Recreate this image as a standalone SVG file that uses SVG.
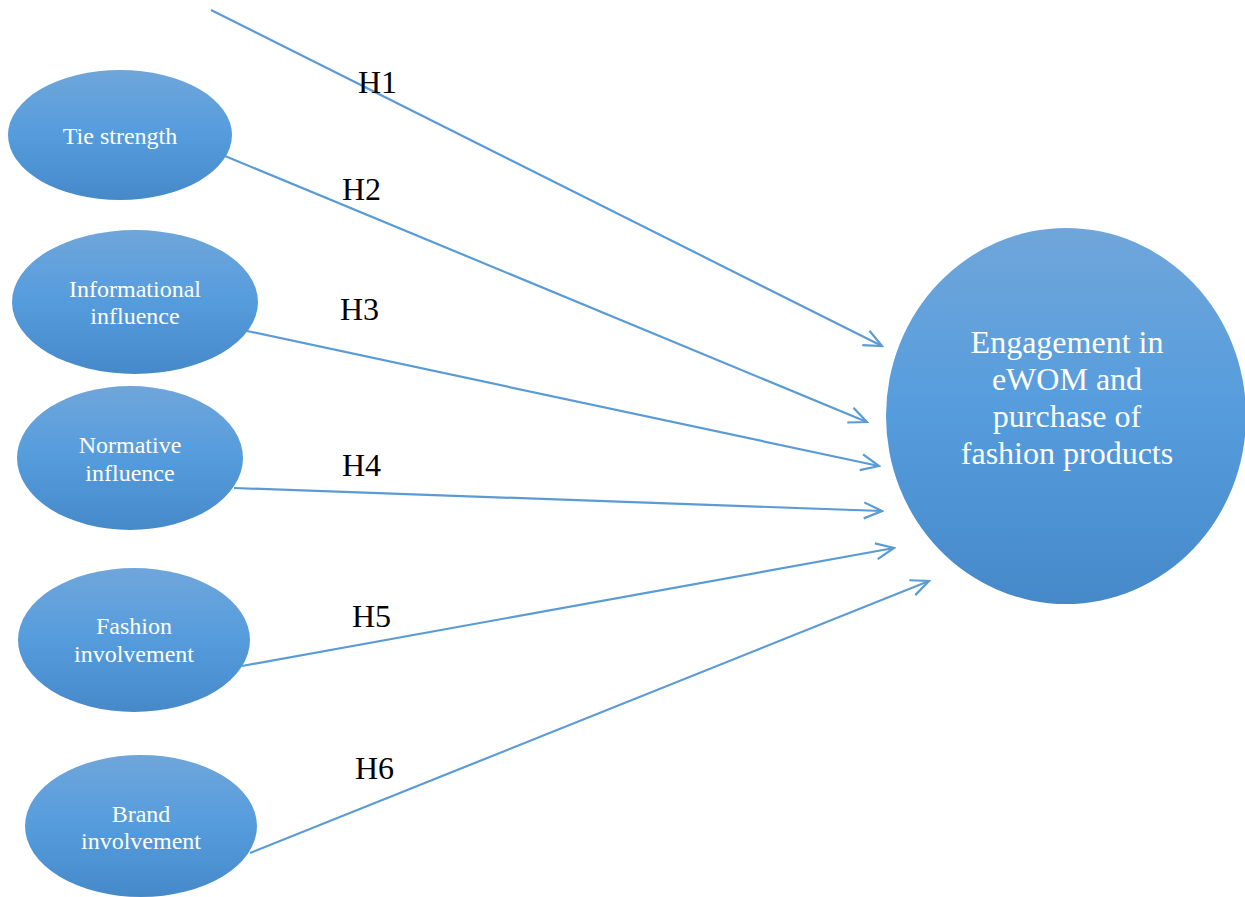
<svg xmlns="http://www.w3.org/2000/svg" width="1245" height="897" viewBox="0 0 1245 897">
<defs>
<linearGradient id="g" x1="0" y1="0" x2="0" y2="1">
<stop offset="0" stop-color="#6FA6DA"/>
<stop offset="0.5" stop-color="#559CDD"/>
<stop offset="1" stop-color="#4689C9"/>
</linearGradient>
<marker id="arr" viewBox="-20 -10 22 20" refX="0" refY="0" markerWidth="22" markerHeight="20" markerUnits="userSpaceOnUse" orient="auto">
<path d="M-18,-8 L0,0 L-18,8" fill="none" stroke="#5B9BD5" stroke-width="2.2"/>
</marker>
<style>
.n{fill:url(#g);}
.t{fill:#fff;font-size:24px;text-anchor:middle;}
.bt{fill:#fff;font-size:32px;text-anchor:middle;}
.h{fill:#000;font-size:32px;}
.c{stroke:#5B9BD5;stroke-width:2.2;fill:none;marker-end:url(#arr);}
</style>
</defs>
<rect width="1245" height="897" fill="#fff"/>
<g id="connectors">
<line class="c" x1="211" y1="10" x2="882" y2="346"/>
<line class="c" x1="225" y1="156" x2="867" y2="422"/>
<line class="c" x1="247" y1="331" x2="879" y2="466"/>
<line class="c" x1="234" y1="488" x2="882" y2="511"/>
<line class="c" x1="242" y1="666" x2="894" y2="548"/>
<line class="c" x1="250" y1="853" x2="929" y2="581"/>
</g>
<g id="labels" font-family="Liberation Serif, Times New Roman, serif">
<text class="h" x="358" y="93">H1</text>
<text class="h" x="342" y="200">H2</text>
<text class="h" x="340" y="320">H3</text>
<text class="h" x="342" y="476">H4</text>
<text class="h" x="352" y="627">H5</text>
<text class="h" x="355" y="779">H6</text>
</g>
<g id="tie-strength" font-family="Liberation Serif, Times New Roman, serif">
<ellipse class="n" cx="120" cy="135" rx="112" ry="65"/>
<text class="t" x="120" y="144">Tie strength</text>
</g>
<g id="informational-influence" font-family="Liberation Serif, Times New Roman, serif">
<ellipse class="n" cx="135" cy="302" rx="123" ry="72"/>
<text class="t" x="135" y="297">Informational</text>
<text class="t" x="135" y="324">influence</text>
</g>
<g id="normative-influence" font-family="Liberation Serif, Times New Roman, serif">
<ellipse class="n" cx="130" cy="458" rx="113" ry="72"/>
<text class="t" x="130" y="453">Normative</text>
<text class="t" x="130" y="481">influence</text>
</g>
<g id="fashion-involvement" font-family="Liberation Serif, Times New Roman, serif">
<ellipse class="n" cx="134" cy="640" rx="116" ry="72"/>
<text class="t" x="134" y="634">Fashion</text>
<text class="t" x="134" y="662">involvement</text>
</g>
<g id="brand-involvement" font-family="Liberation Serif, Times New Roman, serif">
<ellipse class="n" cx="141" cy="826" rx="116" ry="71"/>
<text class="t" x="141" y="822">Brand</text>
<text class="t" x="141" y="849">involvement</text>
</g>
<g id="engagement" font-family="Liberation Serif, Times New Roman, serif">
<ellipse class="n" cx="1066" cy="416" rx="180" ry="188"/>
<text class="bt" x="1067" y="353">Engagement in</text>
<text class="bt" x="1067" y="390">eWOM and</text>
<text class="bt" x="1067" y="427">purchase of</text>
<text class="bt" x="1067" y="464">fashion products</text>
</g>
</svg>
